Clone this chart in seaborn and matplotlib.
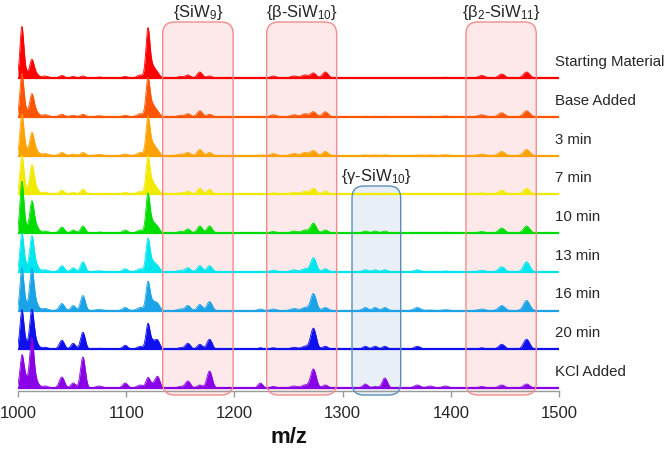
import numpy as np
import pandas as pd
import matplotlib
matplotlib.use("Agg")
import matplotlib.pyplot as plt
from matplotlib.patches import FancyBboxPatch
import seaborn as sns

# ---------------- data ----------------
trace_labels = ["Starting Material", "Base Added", "3 min", "7 min", "10 min",
                "13 min", "16 min", "20 min", "KCl Added"]
trace_colors = ["#FF0000", "#FF5500", "#FFA200", "#F2EA00", "#00DD00",
                "#00E6EE", "#1AA3E6", "#1010EE", "#8A00E6"]

# peak centres (m/z) and widths
peak_mz = [1003.5, 1006, 1012.7, 1016, 1025, 1040.5, 1051, 1060, 1075, 1099,
           1113, 1120, 1124, 1129, 1150, 1157, 1168, 1177, 1224, 1236,
           1255, 1265, 1273, 1284, 1321, 1330, 1339, 1369, 1381, 1395,
           1428.5, 1447, 1470]
peak_width = [1.7, 2.8, 1.9, 2.6, 3, 2.4, 2.2, 2.2, 3, 2.4,
              3, 1.8, 2.7, 2.2, 2.6, 2.4, 2.4, 2.4, 2.2, 2.6,
              3, 3, 2.6, 2.6, 2.4, 2.4, 2.4, 3, 3, 3,
              3, 2.9, 2.9]

h_start = [46, 8, 16, 5, 2, 2.5, 1.5, 2, 1, 1.5, 3, 46, 12, 4, 1.5, 3, 6, 2, 0.5, 2,
           2, 3, 5, 6, 0.5, 0.5, 0.5, 0.5, 0.5, 0.8, 2.5, 4, 6]
h_base = [38, 8, 20, 6, 2, 2.5, 1.5, 2.5, 1, 1.5, 3, 35, 12, 4, 1.5, 3, 6, 2.5, 0.5, 2,
          2, 3, 5, 5, 0.5, 0.5, 0.5, 0.5, 0.5, 0.8, 2, 4, 6]
h_3min = [36, 8, 20, 6, 2, 3, 1.5, 3, 1, 1.5, 3, 35, 12, 4, 1.5, 3, 6, 3, 0.5, 2,
          2, 3, 5, 4, 0.5, 0.5, 0.5, 0.5, 0.5, 0.8, 1.5, 4, 6]
h_7min = [34, 7, 26, 7, 2, 4, 2, 5, 1, 2, 3, 34, 12, 4, 1.5, 3, 6, 5, 0.5, 1.5,
          2, 3, 6, 3, 1, 1, 1, 0.5, 0.5, 0.8, 1.5, 4, 6]
h_10min = [46, 8, 28, 8, 2, 6, 3, 7, 1, 3, 3, 36, 11, 5, 1.5, 4, 7, 7, 0.5, 1.5,
           2, 3, 10, 3, 2, 2, 2, 0.5, 0.5, 0.8, 1.5, 5, 7]
h_13min = [33, 8, 32, 8, 2, 6, 4, 10, 1, 3, 3, 30, 10, 5, 1.5, 4, 6, 6, 0.5, 1.5,
           2, 3, 14, 3, 2, 2, 2, 2, 0.5, 0.8, 1.5, 5, 10]
h_16min = [37, 8, 38, 8, 2, 7, 5, 15, 1, 3, 3, 26, 9, 6, 1.5, 5, 6, 9, 1.5, 1.5,
           2, 3, 17, 3, 3, 3, 3, 3, 0.5, 0.8, 1.5, 5, 10]
h_20min = [34, 8, 36, 8, 2, 9, 6, 17, 1, 4, 3, 23, 8, 8, 1.5, 6, 5, 10, 1.5, 1.5,
           2, 3, 21, 3, 3, 3, 3, 3, 0.5, 0.8, 1.5, 5, 10]
h_kcl = [25, 12, 46, 8, 2, 11, 5, 31, 2, 5, 3, 9, 4, 11, 1.5, 7, 3, 17, 5, 1.5,
         2, 3, 19, 3, 4, 1.5, 10, 3, 2, 2, 1.5, 3, 4]
heights = [h_start, h_base, h_3min, h_7min, h_10min, h_13min, h_16min, h_20min, h_kcl]

# highlighted regions (m/z ranges) and their labels
box_labels = [r"{SiW$_9$}", r"{β-SiW$_{10}$}", r"{β$_2$-SiW$_{11}$}"]
box_ranges = [(1133.7, 1198.8), (1229.8, 1294.5), (1414, 1479)]
gamma_label = r"{γ-SiW$_{10}$}"
gamma_range = (1308.7, 1353.7)

x_ticks = [1000, 1100, 1200, 1300, 1400, 1500]

# ---------------- build spectra ----------------
mz = np.linspace(1000, 1500, 3001)
pm = np.array(peak_mz)[:, None]
pw = np.array(peak_width)[:, None]
profiles = np.exp(-0.5 * ((mz[None, :] - pm) / pw) ** 2)

spacing = 38.75
n = len(trace_labels)
rows = []
for i, (lab, h) in enumerate(zip(trace_labels, heights)):
    y = (np.array(h)[:, None] * profiles).sum(axis=0)
    rows.append(pd.DataFrame({"mz": mz, "intensity": y, "trace": lab,
                              "offset": 3 + spacing * (n - 1 - i)}))
df = pd.concat(rows, ignore_index=True)

# ---------------- plot ----------------
sns.set_theme(style="white")
plt.rcParams["font.family"] = ["Liberation Sans", "DejaVu Sans"]
plt.rcParams["mathtext.default"] = "regular"

fig = plt.figure(figsize=(6.64, 4.49), dpi=100)
ax = fig.add_axes([18 / 664, 58 / 449, (559 - 18) / 664, 391 / 449])
ax.set_xlim(1000, 1500)
ax.set_ylim(0, 391)

pink_face, pink_edge = "#FDE9EA", "#F28C8C"
blue_face, blue_edge = "#E9EFF7", "#5B8DB8"
txt = "#262626"

def add_box(x0, x1, y0, y1, face, edge):
    kw = dict(boxstyle="round,pad=0,rounding_size=11", mutation_aspect=1.09,
              transform=ax.transData, clip_on=False)
    ax.add_patch(FancyBboxPatch((x0, y0), x1 - x0, y1 - y0, facecolor=face,
                                edgecolor="none", zorder=0, **kw))
    ax.add_patch(FancyBboxPatch((x0, y0), x1 - x0, y1 - y0, facecolor="none",
                                edgecolor=edge, lw=1.0, zorder=30, **kw))

for (x0, x1), lab in zip(box_ranges, box_labels):
    add_box(x0, x1, -4, 369, pink_face, pink_edge)
    ax.text((x0 + x1) / 2, 379, lab, ha="center", va="center", fontsize=12,
            color=txt)
add_box(gamma_range[0], gamma_range[1], -4, 205, blue_face, blue_edge)
ax.text(sum(gamma_range) / 2, 215, gamma_label, ha="center", va="center",
        fontsize=12, color=txt)

for i, (lab, col) in enumerate(zip(trace_labels, trace_colors)):
    sub = df[df["trace"] == lab]
    off = sub["offset"].iloc[0]
    yy = sub["intensity"].to_numpy() + off
    ax.fill_between(sub["mz"], off, yy, color=col, lw=0, zorder=2 + i)
    sns.lineplot(x=sub["mz"], y=yy, color=col, lw=0.6, ax=ax, zorder=2 + i)
    ax.plot([1000, 1500], [off, off], color=col, lw=1.6, zorder=2 + i,
            solid_capstyle="butt")
    ax.text(1496, off + 16, lab, ha="left", va="center", fontsize=10.8,
            color=txt, clip_on=False)

for s in ["left", "right", "top"]:
    ax.spines[s].set_visible(False)
ax.spines["bottom"].set_color("#9A9A9A")
ax.spines["bottom"].set_linewidth(1.0)
ax.set_yticks([])
ax.set_xticks(x_ticks)
ax.set_xticklabels([str(t) for t in x_ticks], fontsize=12, color=txt)
ax.tick_params(axis="x", direction="out", length=4.3, width=1, color="#9A9A9A",
               pad=6.5, bottom=True)
ax.set_ylabel("")
ax.set_xlabel("m/z", fontsize=16, fontweight="bold", labelpad=4, color="#111111")

fig.savefig("out.png", dpi=100)
